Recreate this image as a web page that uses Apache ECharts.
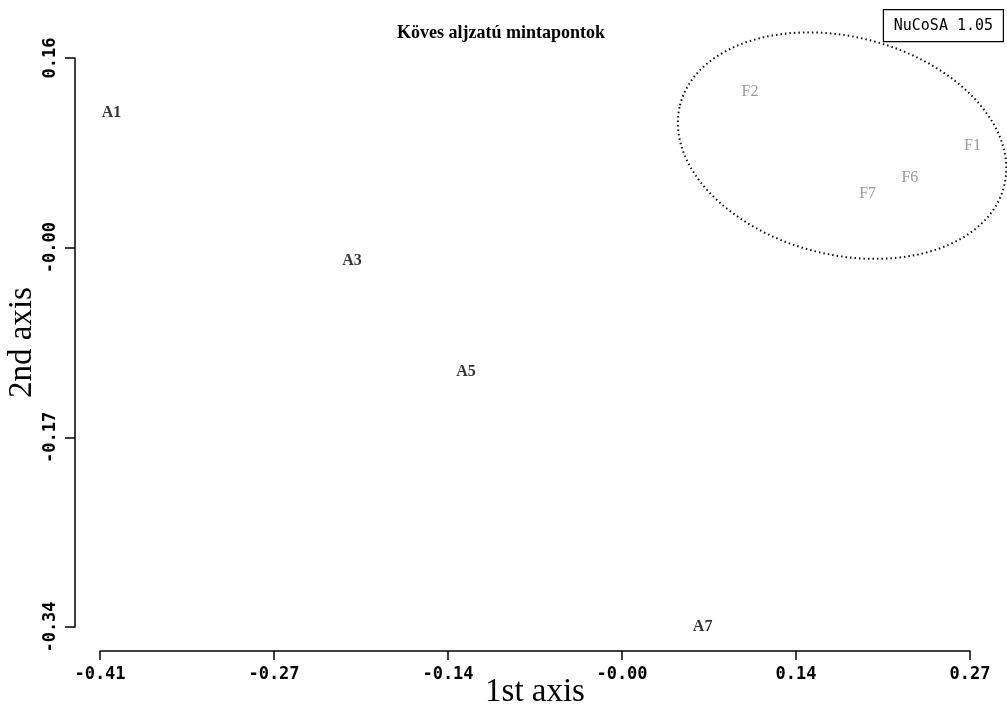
<!DOCTYPE html>
<html>
<head>
<meta charset="utf-8">
<script src="https://cdn.jsdelivr.net/npm/echarts@6/dist/echarts.min.js"></script>
<style>
  html, body { margin: 0; padding: 0; background: #fff; }
  #ord { width: 1007px; height: 706px; }
</style>
</head>
<body>
<div id="ord"></div>
<script>
// pontok (ordináció)
var names = ['A1', 'A3', 'A5', 'A7', 'F2', 'F1', 'F6', 'F7'];
var groups = ['A', 'A', 'A', 'A', 'F', 'F', 'F', 'F'];
var xs = [-0.401, -0.213, -0.124, 0.061, 0.098, 0.272, 0.223, 0.190];
var ys = [0.112, -0.018, -0.116, -0.340, 0.130, 0.083, 0.055, 0.041];

// tengelyek
var xMin = -0.41, xMax = 0.27;
var yMin = -0.34, yMax = 0.16;
var xTickLabels = ['-0.41', '-0.27', '-0.14', '-0.00', '0.14', '0.27'];
var yTickLabels = ['-0.34', '-0.17', '-0.00', '0.16'];

// az F csoport köré rajzolt ellipszis középpontja
var ellipseCenter = [0.170, 0.083];

var xStep = (xMax - xMin) / (xTickLabels.length - 1);
var yStep = (yMax - yMin) / (yTickLabels.length - 1);
var xTicks = xTickLabels.map(function (s, i) { return xMin + i * xStep; });
var yTicks = yTickLabels.map(function (s, i) { return yMin + i * yStep; });

function pointsOf(g) {
    var out = [];
    for (var i = 0; i < names.length; i++) {
        if (groups[i] === g) out.push({ name: names[i], value: [xs[i], ys[i]] });
    }
    return out;
}

var serif = '"Liberation Serif", "DejaVu Serif", serif';
var mono = '"DejaVu Sans Mono", "Liberation Mono", monospace';

var myChart = echarts.init(document.getElementById('ord'));

var option = {
    backgroundColor: '#fff',
    animation: false,
    title: {
        text: 'Köves aljzatú mintapontok',
        left: 397,
        top: 24,
        padding: 0,
        textStyle: { fontFamily: serif, fontSize: 18, fontWeight: 'bold', color: '#000' }
    },
    grid: { left: 100, right: 37, top: 58, bottom: 79, containLabel: false, outerBoundsMode: 'none' },
    xAxis: {
        type: 'value',
        min: xMin,
        max: xMax,
        offset: 24,
        name: '1st axis',
        nameLocation: 'middle',
        nameGap: 25,
        nameMoveOverlap: false,
        nameTextStyle: { fontFamily: serif, fontSize: 33, color: '#000' },
        axisLine: { show: true, onZero: false, lineStyle: { color: '#000', width: 1.5 } },
        axisTick: { show: true, length: 9, lineStyle: { color: '#000', width: 1.5 }, customValues: xTicks },
        axisLabel: {
            customValues: xTicks,
            margin: 15,
            fontFamily: mono, fontSize: 17, fontWeight: 'bold', color: '#000',
            formatter: function (v) { return xTickLabels[Math.round((v - xMin) / xStep)]; }
        },
        splitLine: { show: false }
    },
    yAxis: {
        type: 'value',
        min: yMin,
        max: yMax,
        offset: 25,
        name: '2nd axis',
        nameLocation: 'middle',
        nameGap: 36,
        nameMoveOverlap: false,
        nameTextStyle: { fontFamily: serif, fontSize: 33, color: '#000' },
        axisLine: { show: true, onZero: false, lineStyle: { color: '#000', width: 1.5 } },
        axisTick: { show: true, length: 10, lineStyle: { color: '#000', width: 1.5 }, customValues: yTicks },
        axisLabel: {
            customValues: yTicks,
            rotate: 90,
            margin: 16,
            fontFamily: mono, fontSize: 17, fontWeight: 'bold', color: '#000',
            formatter: function (v) { return yTickLabels[Math.round((v - yMin) / yStep)]; }
        },
        splitLine: { show: false }
    },
    series: [{
        name: 'A',
        type: 'scatter',
        clip: false,
        symbolSize: 1,
        itemStyle: { color: 'rgba(0,0,0,0)' },
        label: {
            show: true, position: 'inside', formatter: '{b}',
            fontFamily: serif, fontSize: 16, fontWeight: 'bold', color: '#000'
        },
        data: pointsOf('A')
    }, {
        name: 'F',
        type: 'scatter',
        clip: false,
        symbolSize: 1,
        itemStyle: { color: 'rgba(0,0,0,0)' },
        label: {
            show: true, position: 'inside', formatter: '{b}',
            fontFamily: serif, fontSize: 16, color: '#808080'
        },
        data: pointsOf('F')
    }]
};

myChart.setOption(option);

var c = myChart.convertToPixel({ gridIndex: 0 }, ellipseCenter);
myChart.setOption({
    graphic: [{
        type: 'ellipse',
        x: c[0],
        y: c[1],
        rotation: -14 * Math.PI / 180,
        shape: { cx: 0, cy: 0, rx: 167, ry: 109 },
        style: { fill: 'none', stroke: '#111', lineWidth: 2, lineDash: [1.5, 3] },
        silent: true
    }, {
        type: 'group',
        right: 3,
        top: 9,
        children: [{
            type: 'rect',
            shape: { x: 0, y: 0, width: 120, height: 32 },
            style: { fill: '#fff', stroke: '#000', lineWidth: 1.2 }
        }, {
            type: 'text',
            x: 60,
            y: 17,
            style: {
                text: 'NuCoSA 1.05', fontFamily: mono, fontSize: 15, fill: '#000',
                align: 'center', verticalAlign: 'middle'
            }
        }]
    }]
});
</script>
</body>
</html>
